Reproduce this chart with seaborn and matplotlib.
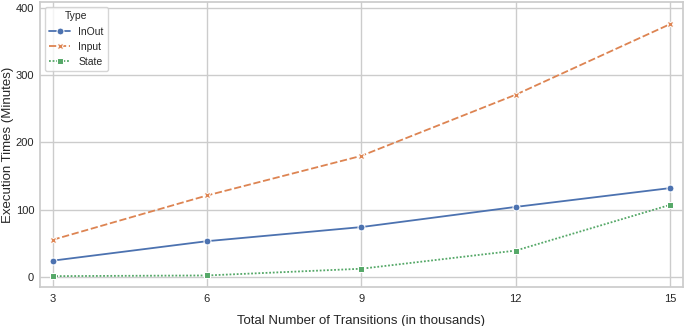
import matplotlib
matplotlib.use("Agg")
import matplotlib.pyplot as plt
import pandas as pd
import seaborn as sns

# Values
transitions = [3, 6, 9, 12, 15]
inout = [24, 53, 74, 104, 132]
input_times = [55, 121, 180, 271, 376]
state = [1, 2, 12, 39, 107]

df = pd.DataFrame({
    "Transitions": transitions * 3,
    "Time": inout + input_times + state,
    "Type": ["InOut"] * 5 + ["Input"] * 5 + ["State"] * 5,
})

sns.set_theme(style="whitegrid")
plt.rcParams["font.family"] = ["Liberation Sans", "DejaVu Sans"]

fig, ax = plt.subplots(figsize=(6.85, 3.26), dpi=100)
sns.lineplot(data=df, x="Transitions", y="Time", hue="Type", style="Type",
             markers=["o", "X", "s"], dashes=[(None, None), (4, 1.5), (1, 1)],
             markersize=5, linewidth=1.3, ax=ax)

ax.set_xticks(transitions)
ax.set_xlim(2.75, 15.25)
ax.set_ylim(-15, 409)
ax.set_yticks([0, 100, 200, 300, 400])
ax.tick_params(axis="x", labelsize=8, pad=5, length=0)
ax.tick_params(axis="y", labelsize=8, pad=4, length=0)
ax.set_xlabel("Total Number of Transitions (in thousands)", fontsize=9.5)
ax.set_ylabel("Execution Times (Minutes)", fontsize=9.5)
ax.yaxis.set_label_coords(-0.04, 0.5)
ax.xaxis.set_label_coords(0.5, -0.1)

ax.legend(loc="upper left", fontsize=7.5, title="Type", title_fontsize=7.5)

fig.subplots_adjust(left=0.058, right=0.997, top=0.994, bottom=0.12)
plt.savefig("out.png", dpi=100)
